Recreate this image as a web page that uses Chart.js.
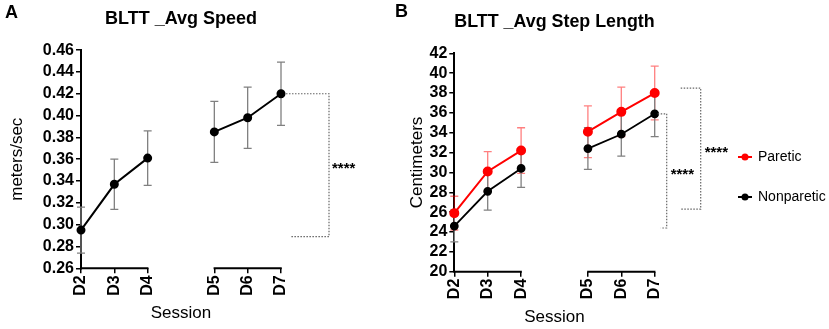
<!DOCTYPE html>
<html>
<head>
<meta charset="utf-8">
<script src="https://cdn.jsdelivr.net/npm/chart.js@4"></script>
<style>
  html, body { margin: 0; padding: 0; background: #fff; }
  .panel { position: absolute; top: 0; height: 329px; }
  #panel-a { left: 0; width: 395px; }
  #panel-b { left: 395px; width: 434px; }
</style>
</head>
<body>
<div class="panel" id="panel-a"><canvas id="chart-a"></canvas></div>
<div class="panel" id="panel-b"><canvas id="chart-b"></canvas></div>
<script>
// sessions on the x axis (a gap is drawn between D4 and D5)
const sessions = ['D2', 'D3', 'D4', 'D5', 'D6', 'D7'];

// Panel A - average speed (m/s), mean and error
const speedMean = [0.295, 0.337, 0.361, 0.385, 0.398, 0.420];
const speedErr = [0.021, 0.023, 0.025, 0.028, 0.028, 0.029];
const speedAxis = [0.26, 0.46, 0.02]; // min, max, step
const speedBracket = [0.420, 0.289];

// Panel B - average step length (cm)
const seriesNames = ['Paretic', 'Nonparetic'];
const pareticMean = [25.9, 30.1, 32.2, 34.1, 36.1, 38.0];
const pareticErr = [1.7, 2.0, 2.3, 2.6, 2.5, 2.7];
const nonpareticMean = [24.6, 28.1, 30.4, 32.4, 33.85, 35.9];
const nonpareticErr = [1.6, 1.9, 1.9, 2.1, 2.2, 2.3];
const stepAxis = [20, 42, 2];
const stepBrackets = [[35.9, 24.4], [38.5, 26.3]];

const FONT = "'Liberation Sans', Arial, sans-serif";
Chart.defaults.font.family = FONT;
Chart.defaults.color = '#000';

// insert an empty slot between D4 and D5 so the axis can be broken
function withGap(arr, fill) {
  return [...arr.slice(0, 3), fill, ...arr.slice(3)];
}
const xLabels = withGap(sessions, '');

/* error bars drawn behind the points */
const errorBars = {
  id: 'errorBars',
  beforeDatasetsDraw(chart) {
    const { ctx } = chart;
    const y = chart.scales.y;
    chart.data.datasets.forEach((ds, i) => {
      const meta = chart.getDatasetMeta(i);
      ctx.save();
      ctx.strokeStyle = ds.errorColor;
      ctx.lineWidth = 1.3;
      meta.data.forEach((pt, j) => {
        const v = ds.data[j];
        const e = ds.errors[j];
        if (v == null) return;
        const top = y.getPixelForValue(v + e);
        const bot = y.getPixelForValue(v - e);
        ctx.beginPath();
        ctx.moveTo(pt.x, top); ctx.lineTo(pt.x, bot);
        ctx.moveTo(pt.x - 4, top); ctx.lineTo(pt.x + 4, top);
        ctx.moveTo(pt.x - 4, bot); ctx.lineTo(pt.x + 4, bot);
        ctx.stroke();
      });
      ctx.restore();
    });
  }
};

/* broken x axis, significance brackets, panel letter, legend */
const decor = {
  id: 'decor',
  afterDraw(chart, args, opts) {
    const { ctx, chartArea } = chart;
    const x = chart.scales.x;
    const y = chart.scales.y;
    ctx.save();

    // x axis line in two pieces
    ctx.strokeStyle = '#000';
    ctx.lineWidth = 2;
    ctx.beginPath();
    ctx.moveTo(x.getPixelForValue(0) - 1, chartArea.bottom);
    ctx.lineTo(x.getPixelForValue(2) + 0.75, chartArea.bottom);
    ctx.moveTo(x.getPixelForValue(4) - 0.75, chartArea.bottom);
    ctx.lineTo(x.getPixelForValue(6) + 0.75, chartArea.bottom);
    ctx.stroke();

    // brackets
    const x0 = x.getPixelForValue(6);
    (opts.brackets || []).forEach(b => {
      const yt = y.getPixelForValue(b.values[0]);
      const yb = y.getPixelForValue(b.values[1]);
      ctx.strokeStyle = '#666';
      ctx.lineWidth = 1.2;
      ctx.setLineDash([1.5, 1.5]);
      ctx.beginPath();
      ctx.moveTo(x0 + b.topFrom, yt);
      ctx.lineTo(x0 + b.right, yt);
      ctx.lineTo(x0 + b.right, yb);
      ctx.lineTo(x0 + b.bottomFrom, yb);
      ctx.stroke();
      ctx.setLineDash([]);
      ctx.fillStyle = '#000';
      ctx.font = 'bold 15px ' + FONT;
      ctx.textAlign = 'left';
      ctx.textBaseline = 'middle';
      ctx.fillText('****', x0 + b.stars, (yt + yb) / 2 + 4);
    });

    // panel letter
    ctx.fillStyle = '#000';
    ctx.font = 'bold 18px ' + FONT;
    ctx.textAlign = 'left';
    ctx.textBaseline = 'middle';
    ctx.fillText(opts.letter, opts.letterX, opts.letterY);

    // legend
    if (opts.legend) {
      chart.data.datasets.forEach((ds, i) => {
        const ly = opts.legend.y + i * opts.legend.gap;
        const lx = opts.legend.x;
        ctx.strokeStyle = ds.borderColor;
        ctx.fillStyle = ds.borderColor;
        ctx.lineWidth = 2;
        ctx.beginPath();
        ctx.moveTo(lx - 7, ly); ctx.lineTo(lx + 7, ly);
        ctx.stroke();
        ctx.beginPath();
        ctx.arc(lx, ly, 3.5, 0, Math.PI * 2);
        ctx.fill();
        ctx.fillStyle = '#000';
        ctx.font = '14px ' + FONT;
        ctx.fillText(ds.label, lx + 13, ly);
      });
    }
    ctx.restore();
  }
};

function makeScales(o) {
  return {
    x: {
      type: 'category',
      offset: false,
      border: { display: false },
      grid: {
        drawOnChartArea: false,
        tickLength: 5,
        lineWidth: 1.5,
        color: c => (c.index === 3 ? 'rgba(0,0,0,0)' : '#000')
      },
      ticks: {
        autoSkip: false,
        minRotation: 90,
        maxRotation: 90,
        padding: 2,
        font: { size: 16, weight: 'bold' }
      },
      title: {
        display: true,
        text: 'Session',
        font: { size: 17 },
        padding: { top: 0, bottom: o.sessionPad }
      },
      afterFit: s => { s.height = o.xHeight; }
    },
    y: {
      min: o.axis[0],
      max: o.axis[1],
      border: { color: '#000', width: 2 },
      grid: { drawOnChartArea: false, tickLength: 5, lineWidth: 1.5, color: '#000' },
      ticks: {
        stepSize: o.axis[2],
        autoSkip: false,
        padding: 2,
        font: { size: 16, weight: 'bold' },
        callback: v => v.toFixed(o.decimals)
      },
      title: {
        display: true,
        text: o.yTitle,
        font: { size: 17 },
        padding: { top: o.yTitlePad, bottom: 0 }
      },
      afterFit: s => { s.width = o.yWidth; }
    }
  };
}

new Chart(document.getElementById('chart-a'), {
  type: 'line',
  data: {
    labels: xLabels,
    datasets: [{
      label: 'Speed',
      data: withGap(speedMean, null),
      errors: withGap(speedErr, null),
      errorColor: '#808080',
      borderColor: '#000',
      backgroundColor: '#000',
      borderWidth: 2,
      pointRadius: 3.5,
      pointHoverRadius: 3.5,
      spanGaps: false
    }]
  },
  options: {
    responsive: true,
    maintainAspectRatio: false,
    animation: false,
    layout: { padding: { left: 0, right: 114, top: 0, bottom: 0 } },
    plugins: {
      legend: { display: false },
      tooltip: { enabled: false },
      title: {
        display: true,
        fullSize: false,
        text: 'BLTT _Avg Speed',
        font: { size: 18, weight: 'bold' },
        padding: { top: 8, bottom: 20.5 }
      },
      decor: {
        letter: 'A', letterX: 5, letterY: 13,
        brackets: [{ values: speedBracket, topFrom: 5, right: 48, bottomFrom: 9, stars: 51 }]
      }
    },
    scales: makeScales({
      axis: speedAxis, decimals: 2, yTitle: 'meters/sec', yTitlePad: 7,
      yWidth: 81, xHeight: 60.7, sessionPad: 5
    })
  },
  plugins: [errorBars, decor]
});

new Chart(document.getElementById('chart-b'), {
  type: 'line',
  data: {
    labels: xLabels,
    datasets: [{
      label: seriesNames[0],
      data: withGap(pareticMean, null),
      errors: withGap(pareticErr, null),
      errorColor: 'rgba(255,0,0,0.5)',
      borderColor: '#ff0000',
      backgroundColor: '#ff0000',
      borderWidth: 2,
      pointRadius: 4,
      pointHoverRadius: 4,
      spanGaps: false
    }, {
      label: seriesNames[1],
      data: withGap(nonpareticMean, null),
      errors: withGap(nonpareticErr, null),
      errorColor: '#808080',
      borderColor: '#000',
      backgroundColor: '#000',
      borderWidth: 1.8,
      pointRadius: 3.5,
      pointHoverRadius: 3.5,
      spanGaps: false
    }]
  },
  options: {
    responsive: true,
    maintainAspectRatio: false,
    animation: false,
    layout: { padding: { left: 0, right: 174.3, top: 0, bottom: 0 } },
    plugins: {
      legend: { display: false },
      tooltip: { enabled: false },
      title: {
        display: true,
        fullSize: false,
        text: 'BLTT _Avg Step Length',
        font: { size: 18, weight: 'bold' },
        padding: { top: 11, bottom: 20.7 }
      },
      decor: {
        letter: 'B', letterX: 0, letterY: 12,
        legend: { x: 350, y: 157, gap: 40 },
        brackets: [
          { values: stepBrackets[0], topFrom: 3, right: 12, bottomFrom: 6, stars: 16 },
          { values: stepBrackets[1], topFrom: 26, right: 46, bottomFrom: 26, stars: 50 }
        ]
      }
    },
    scales: makeScales({
      axis: stepAxis, decimals: 0, yTitle: 'Centimeters', yTitlePad: 12,
      yWidth: 59.3, xHeight: 57.3, sessionPad: 1
    })
  },
  plugins: [errorBars, decor]
});
</script>
</body>
</html>
